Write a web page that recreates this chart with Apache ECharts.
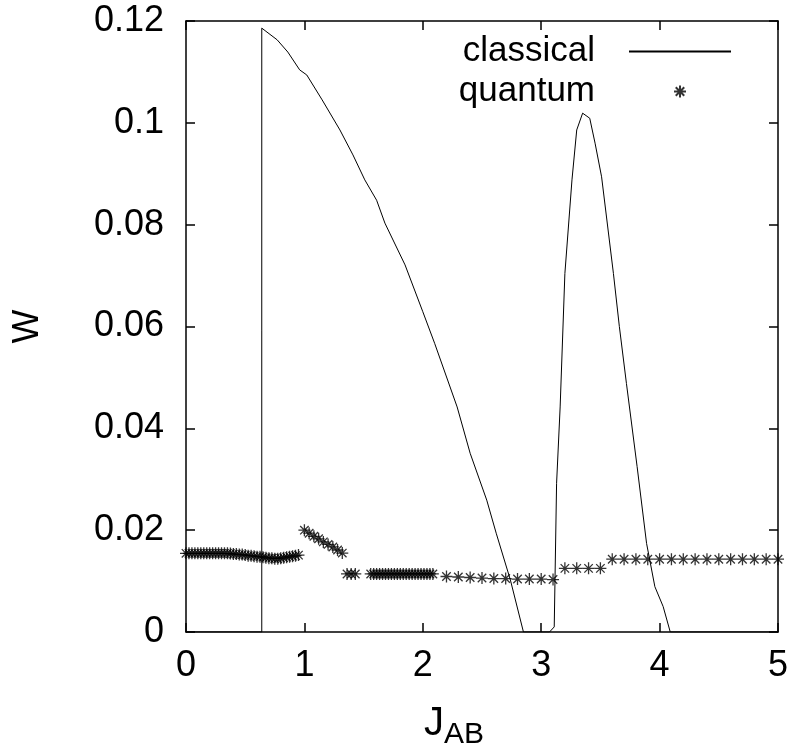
<!DOCTYPE html>
<html>
<head>
<meta charset="utf-8">
<script src="https://cdn.jsdelivr.net/npm/echarts@6/dist/echarts.min.js"></script>
<style>
  html, body { margin: 0; padding: 0; background: #fff; }
  #chart { width: 791px; height: 753px; }
</style>
</head>
<body>
<div id="chart"></div>
<script>
// classical curve
const classicalJ = [0, 0.64, 0.64, 0.77, 0.86, 0.96, 1.02, 1.15, 1.30, 1.41, 1.51, 1.61, 1.68, 1.85, 2.00, 2.10,
  2.29, 2.40, 2.54, 2.62, 2.74, 2.85, 3.07, 3.11, 3.13, 3.16, 3.20, 3.26, 3.30, 3.35, 3.41, 3.455, 3.51,
  3.61, 3.66, 3.72, 3.81, 3.89, 3.96, 4.03, 4.09, 5];
const classicalW = [0, 0, 0.1186, 0.1163, 0.1139, 0.1104, 0.1094, 0.1045, 0.0986, 0.0937, 0.0888, 0.0848, 0.0803, 0.0721, 0.0629, 0.0567,
  0.0442, 0.0351, 0.0259, 0.0194, 0.0102, 0, 0, 0.001, 0.0292, 0.0442, 0.0704, 0.0888, 0.0986, 0.1019, 0.1009, 0.0960, 0.0894,
  0.0704, 0.0600, 0.0488, 0.0325, 0.0174, 0.0089, 0.0050, 0, 0];

// quantum points
const quantumJ = [
  0, 0.025, 0.05, 0.075, 0.1, 0.125, 0.15, 0.175, 0.2, 0.225, 0.25, 0.275, 0.3, 0.325, 0.35,
  0.375, 0.4, 0.425, 0.45, 0.475, 0.5, 0.525, 0.55, 0.575, 0.6, 0.625, 0.65, 0.675, 0.7, 0.725,
  0.75, 0.775, 0.8, 0.825, 0.85, 0.875, 0.9, 0.925, 0.95,
  1.00, 1.04, 1.08, 1.12, 1.16, 1.20, 1.24, 1.28, 1.32,
  1.36, 1.395, 1.43,
  1.56, 1.585, 1.61, 1.635, 1.66, 1.685, 1.71, 1.735, 1.76, 1.785, 1.81, 1.835, 1.86, 1.885, 1.91,
  1.935, 1.96, 1.985, 2.01, 2.035, 2.06, 2.085,
  2.2, 2.3, 2.4, 2.5, 2.6, 2.7, 2.8, 2.9, 3.0, 3.1,
  3.2, 3.3, 3.4, 3.5,
  3.6, 3.7, 3.8, 3.9, 4.0, 4.1, 4.2, 4.3, 4.4, 4.5, 4.6, 4.7, 4.8, 4.9, 5.0
];
const quantumW = [
  0.01545, 0.01545, 0.01545, 0.01545, 0.01545, 0.01545, 0.01545, 0.01545, 0.01545, 0.01545, 0.01545, 0.01545, 0.01545, 0.01545, 0.01545,
  0.0154, 0.0153, 0.0153, 0.0152, 0.0152, 0.0151, 0.0150, 0.0150, 0.0149, 0.0148, 0.0148, 0.0147, 0.0146, 0.0145, 0.0145,
  0.0144, 0.0144, 0.0145, 0.0146, 0.0147, 0.0148, 0.0149, 0.0150, 0.0151,
  0.0200, 0.0194, 0.0188, 0.0183, 0.0177, 0.0172, 0.0167, 0.0161, 0.0155,
  0.0114, 0.0114, 0.0114,
  0.0114, 0.0114, 0.0114, 0.0114, 0.0114, 0.0114, 0.0114, 0.0114, 0.0114, 0.0114, 0.0114, 0.0114, 0.0114, 0.0114, 0.0114,
  0.0114, 0.0114, 0.0114, 0.0114, 0.0114, 0.0114, 0.0114,
  0.0109, 0.0108, 0.0107, 0.0106, 0.0105, 0.0105, 0.0104, 0.0104, 0.0104, 0.0103,
  0.0125, 0.0125, 0.0125, 0.0125,
  0.0143, 0.0143, 0.0143, 0.0143, 0.0143, 0.0143, 0.0143, 0.0143, 0.0143, 0.0143, 0.0143, 0.0143, 0.0143, 0.0143, 0.0143
];

const font = "'Liberation Sans', Arial, sans-serif";
const star = 'path://M0,6L12,6M6,0L6,12M1.76,1.76L10.24,10.24M10.24,1.76L1.76,10.24';
// same star, centred in a wide box for the legend
const starWide = 'path://M0,0M102,12M45,6L57,6M51,0L51,12M46.76,1.76L55.24,10.24M55.24,1.76L46.76,10.24';

const frameAxis = {
  axisLine: { show: true, onZero: false, lineStyle: { color: '#000', width: 1.5 } },
  axisTick: { show: true, inside: true, length: 9, lineStyle: { color: '#000', width: 1.5 } },
  splitLine: { show: false }
};

const legendText = {
  color: '#000', fontFamily: font, fontSize: 35,
  rich: { t: { fontFamily: font, fontSize: 35, padding: [0, 29, 0, 0] } }
};

const chart = echarts.init(document.getElementById('chart'));
chart.setOption({
  animation: false,
  backgroundColor: '#fff',
  grid: { left: 186, right: 13, top: 21, bottom: 121, containLabel: false, outerBoundsMode: 'none' },
  legend: [
    {
      data: ['classical'], right: 54, top: 29, align: 'right',
      itemWidth: 102, itemHeight: 12, selectedMode: false,
      itemStyle: { color: 'transparent', borderWidth: 0 },
      formatter: '{t|{name}}', textStyle: legendText
    },
    {
      data: [{ name: 'quantum', icon: starWide }], right: 54, top: 69, align: 'right',
      itemWidth: 102, itemHeight: 12, selectedMode: false,
      formatter: '{t|{name}}', textStyle: legendText
    }
  ],
  xAxis: [
    Object.assign({
      type: 'value', min: 0, max: 5, interval: 1, position: 'bottom',
      name: '{j|J}{s|AB}', nameLocation: 'middle', nameGap: 66,
      nameTextStyle: {
        padding: [0, 56, 0, 0],
        rich: {
          j: { fontFamily: font, fontSize: 40, color: '#000' },
          s: { fontFamily: font, fontSize: 30, color: '#000', padding: [22, 0, 0, 0] }
        }
      },
      axisLabel: { color: '#000', fontFamily: font, fontSize: 36, margin: 16 }
    }, frameAxis),
    Object.assign({
      type: 'value', min: 0, max: 5, interval: 1, position: 'top',
      axisLabel: { show: false }
    }, frameAxis)
  ],
  yAxis: [
    Object.assign({
      type: 'value', min: 0, max: 0.12, interval: 0.02, position: 'left',
      name: 'W', nameLocation: 'middle', nameGap: 140,
      nameTextStyle: { color: '#000', fontFamily: font, fontSize: 36 },
      axisLabel: { color: '#000', fontFamily: font, fontSize: 36, margin: 22 }
    }, frameAxis),
    Object.assign({
      type: 'value', min: 0, max: 0.12, interval: 0.02, position: 'right',
      axisLabel: { show: false }
    }, frameAxis)
  ],
  series: [
    {
      name: 'classical',
      type: 'line',
      symbol: 'none',
      lineStyle: { color: '#000', width: 1 },
      itemStyle: { color: '#000' },
      data: classicalJ.map((j, i) => [j, classicalW[i]])
    },
    {
      name: 'quantum',
      type: 'scatter',
      symbol: star,
      symbolSize: 12,
      itemStyle: { color: 'transparent', borderColor: '#000', borderWidth: 1.3 },
      data: quantumJ.map((j, i) => [j, quantumW[i]])
    }
  ]
});
</script>
</body>
</html>
